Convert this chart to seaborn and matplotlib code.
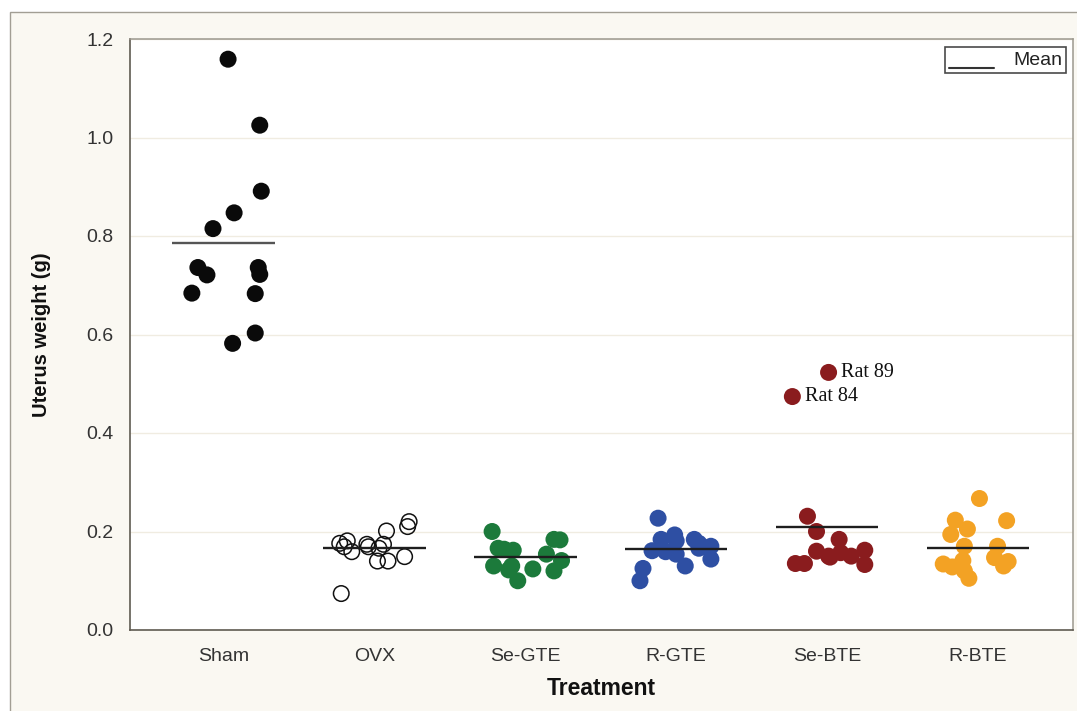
import matplotlib
matplotlib.use("Agg")
import matplotlib.pyplot as plt
from matplotlib.patches import Rectangle
from matplotlib.lines import Line2D
from matplotlib.legend_handler import HandlerBase
import numpy as np
import pandas as pd
import seaborn as sns

# Uterus weight (g) per rat, by treatment group
treatments = ["Sham", "OVX", "Se-GTE", "R-GTE", "Se-BTE", "R-BTE"]

sham = [1.159, 1.025, 0.891, 0.847, 0.815, 0.736, 0.721, 0.736, 0.722,
        0.684, 0.683, 0.603, 0.582]
ovx = [0.220, 0.210, 0.201, 0.176, 0.181, 0.169, 0.159, 0.174, 0.169,
       0.174, 0.166, 0.140, 0.140, 0.149, 0.074]
se_gte = [0.200, 0.166, 0.164, 0.162, 0.183, 0.184, 0.154, 0.141, 0.130,
          0.130, 0.122, 0.124, 0.120, 0.100]
r_gte = [0.227, 0.184, 0.193, 0.181, 0.184, 0.176, 0.170, 0.161, 0.159,
         0.154, 0.166, 0.144, 0.130, 0.125, 0.100]
se_bte = [0.231, 0.200, 0.184, 0.160, 0.150, 0.157, 0.150, 0.162, 0.133,
          0.135, 0.135, 0.148, 0.523, 0.474]
r_bte = [0.267, 0.223, 0.222, 0.205, 0.194, 0.170, 0.170, 0.147, 0.139,
         0.130, 0.134, 0.128, 0.141, 0.120, 0.105]

# horizontal jitter of each point (in category units)
sham_jit = [0.03, 0.24, 0.25, 0.07, -0.07, -0.17, -0.11, 0.23, 0.24,
            -0.21, 0.21, 0.21, 0.06]
ovx_jit = [0.23, 0.22, 0.08, -0.23, -0.18, -0.20, -0.15, -0.05, -0.04,
           0.06, 0.03, 0.02, 0.09, 0.20, -0.22]
se_gte_jit = [-0.22, -0.18, -0.14, -0.08, 0.23, 0.19, 0.14, 0.24, -0.21,
              -0.09, -0.11, 0.05, 0.19, -0.05]
r_gte_jit = [-0.12, -0.10, -0.01, 0.00, 0.12, 0.15, 0.23, -0.16, -0.07,
             0.00, 0.15, 0.23, 0.06, -0.22, -0.24]
se_bte_jit = [-0.13, -0.07, 0.08, -0.07, 0.01, 0.09, 0.16, 0.25, 0.25,
              -0.21, -0.15, 0.02, 0.01, -0.23]
r_bte_jit = [0.01, -0.15, 0.19, -0.07, -0.18, -0.09, 0.13, 0.11, 0.20,
             0.17, -0.23, -0.17, -0.10, -0.09, -0.06]

# labelled outliers in the Se-BTE group (index into se_bte)
outlier_names = ["Rat 89", "Rat 84"]
outlier_index = [12, 13]

group_values = [sham, ovx, se_gte, r_gte, se_bte, r_bte]
group_jitter = [sham_jit, ovx_jit, se_gte_jit, r_gte_jit, se_bte_jit, r_bte_jit]
palette = {"Sham": "#0a0a0a", "OVX": "#0a0a0a", "Se-GTE": "#1c7a3b",
           "R-GTE": "#2e4fa3", "Se-BTE": "#8a1c1e", "R-BTE": "#f3a224"}

rows = []
for i, (name, vals, jit) in enumerate(zip(treatments, group_values, group_jitter)):
    for v, j in zip(vals, jit):
        rows.append({"Treatment": name, "weight": v, "pos": i + j})
df = pd.DataFrame(rows)

sns.set_theme(style="white")
plt.rcParams["font.family"] = ["Liberation Sans", "DejaVu Sans"]

W, H = 1077, 711
fig = plt.figure(figsize=(W / 100, H / 100), dpi=100, facecolor="white")
fig.patches.append(Rectangle((10 / W, -0.02), 1.1, 1.02 - 12 / H,
                             transform=fig.transFigure, facecolor="#faf8f2",
                             edgecolor="#a29e94", lw=1.0, zorder=-10))
ax = fig.add_axes([130 / W, 1 - 630 / H, 943 / W, 591 / H])
ax.set_facecolor("white")

filled = df[df["Treatment"] != "OVX"]
sns.scatterplot(data=filled, x="pos", y="weight", hue="Treatment",
                palette=palette, s=150, linewidth=0, legend=False,
                ax=ax, zorder=3)
sns.scatterplot(data=df[df["Treatment"] == "OVX"], x="pos", y="weight",
                s=125, facecolors="none", edgecolor="#111111", linewidth=1.1,
                legend=False, ax=ax, zorder=3)

# group mean lines
means = df.groupby("Treatment", sort=False)["weight"].mean().reindex(treatments)
xs = np.arange(len(treatments))
mean_colors = ["#555555"] + ["#1e1e1e"] * 5
ax.hlines(means.values, xs - 0.34, xs + 0.34, colors=mean_colors, lw=1.7, zorder=4)

# outlier labels
for name, idx in zip(outlier_names, outlier_index):
    ax.annotate(name, (4 + se_bte_jit[idx], se_bte[idx]), xytext=(9, 0),
                textcoords="offset points", va="center", ha="left",
                fontsize=14.5, family=["Liberation Serif", "DejaVu Serif"],
                color="#111111")

ax.set_xlim(-0.62, 5.63)
ax.set_ylim(0, 1.2)
ax.set_xticks(xs)
ax.set_xticklabels(treatments)
ax.set_yticks(np.arange(0, 1.21, 0.2))
ax.set_yticklabels([f"{t:.1f}" for t in np.arange(0, 1.21, 0.2)])
ax.yaxis.grid(True, color="#f0ece1", lw=1.0)
ax.xaxis.grid(False)
ax.set_axisbelow(True)

for side in ["top", "right"]:
    ax.spines[side].set_color("#9c988e")
    ax.spines[side].set_linewidth(1.1)
for side in ["left", "bottom"]:
    ax.spines[side].set_color("#5f5b52")
    ax.spines[side].set_linewidth(1.2)

ax.tick_params(axis="both", direction="out", length=6, width=1.1,
               color="#5f5b52", labelsize=14, labelcolor="#333333")
ax.tick_params(axis="y", pad=6)
ax.tick_params(axis="x", pad=7)

ax.set_xlabel("Treatment", fontsize=16.5, fontweight="bold", color="#111111")
ax.set_ylabel("Uterus weight (g)", fontsize=14.5, fontweight="bold", color="#111111")
ax.xaxis.set_label_coords(0.5, -0.08)
ax.yaxis.set_label_coords(-0.084, 0.5)


class UnderlineHandler(HandlerBase):
    def create_artists(self, legend, orig_handle, xdescent, ydescent,
                       width, height, fontsize, trans):
        ln = Line2D([-xdescent, -xdescent + width], [-ydescent - 2, -ydescent - 2],
                    color=orig_handle.get_color(),
                    lw=orig_handle.get_linewidth(), transform=trans)
        return [ln]


mean_handle = Line2D([], [], color="#333333", lw=1.5)
leg = ax.legend([mean_handle], ["Mean"], loc="upper right",
                bbox_to_anchor=(0.9926, 0.986), borderaxespad=0,
                handler_map={Line2D: UnderlineHandler()},
                fontsize=14, handlelength=2.3, handletextpad=1.0,
                borderpad=0.2, fancybox=False, framealpha=1,
                edgecolor="#4a4a4a", facecolor="white")
leg.get_frame().set_linewidth(1.2)
for t in leg.get_texts():
    t.set_color("#222222")

fig.savefig("out.png", dpi=100)
